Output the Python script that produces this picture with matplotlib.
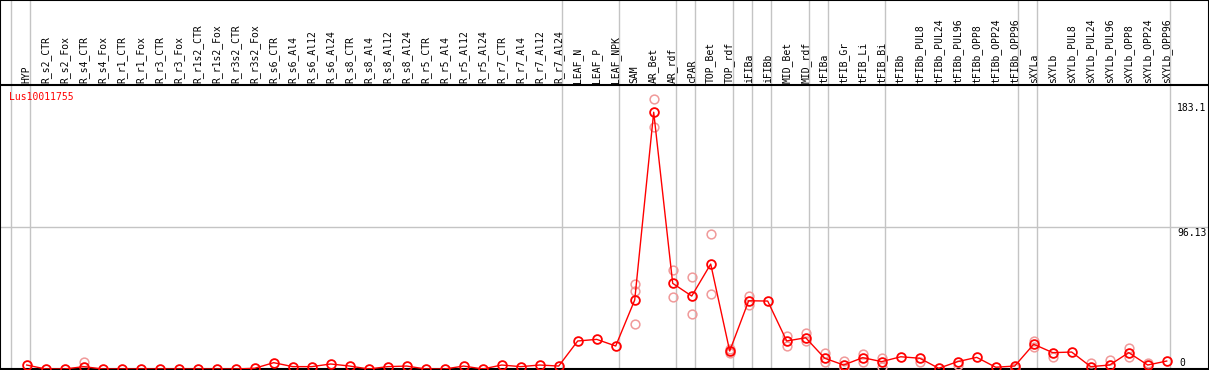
import numpy as np
import matplotlib
matplotlib.use('Agg')
import matplotlib.pyplot as plt

# sample names (header columns)
samples = ['HYP', 'R_s2_CTR', 'R_s2_Fox', 'R_s4_CTR', 'R_s4_Fox', 'R_r1_CTR', 'R_r1_Fox',
           'R_r3_CTR', 'R_r3_Fox', 'R_r1s2_CTR', 'R_r1s2_Fox', 'R_r3s2_CTR', 'R_r3s2_Fox',
           'R_s6_CTR', 'R_s6_Al4', 'R_s6_Al12', 'R_s6_Al24', 'R_s8_CTR', 'R_s8_Al4',
           'R_s8_Al12', 'R_s8_Al24', 'R_r5_CTR', 'R_r5_Al4', 'R_r5_Al12', 'R_r5_Al24',
           'R_r7_CTR', 'R_r7_Al4', 'R_r7_Al12', 'R_r7_Al24', 'LEAF_N', 'LEAF_P', 'LEAF_NPK',
           'SAM', 'AR_Bet', 'AR_rdf', 'cPAR', 'TOP_Bet', 'TOP_rdf', 'iFIBa', 'iFIBb',
           'MID_Bet', 'MID_rdf', 'tFIBa', 'tFIB_Gr', 'tFIB_Li', 'tFIB_Bi', 'tFIBb',
           'tFIBb_PUL8', 'tFIBb_PUL24', 'tFIBb_PUL96', 'tFIBb_OPP8', 'tFIBb_OPP24',
           'tFIBb_OPP96', 'sXYLa', 'sXYLb', 'sXYLb_PUL8', 'sXYLb_PUL24', 'sXYLb_PUL96',
           'sXYLb_OPP8', 'sXYLb_OPP24', 'sXYLb_OPP96']

# mean expression per sample
mean_vals = [2.7, 0, 0, 1.6, 0, 0, 0, 0, 0, 0, 0, 0, 0.5, 4.3, 1.6, 1.6, 3.4, 2.0, 0, 1.6,
             2.0, 0, 0, 2.0, 0, 2.7, 1.6, 2.7, 2.0, 19.0, 20.1, 15.6, 46.8, 174.2, 58.1,
             49.5, 71.2, 12.2, 46.3, 46.1, 19.0, 21.2, 7.3, 2.7, 7.7, 5.0, 8.3, 7.3, 0.5,
             5.0, 7.9, 1.2, 2.0, 16.8, 11.1, 11.5, 1.6, 2.7, 11.1, 2.7, 5.4]

# visible replicate values (sample index, values)
rep_idx = [3, 32, 33, 34, 35, 36, 37, 38, 40, 41, 42, 43, 44, 45, 47, 49, 52, 53, 54, 56, 57, 58, 59]
rep_vals = [[4.7], [57.5, 52.9, 30.5], [183.4, 164.2], [67.2, 48.6], [62.2, 37.3],
            [91.6, 50.7], [10.7, 13.6], [49.7, 43.4], [22.6, 15.8], [24.4, 19.0],
            [10.7, 5.0], [5.4, 1.0], [10.2, 5.0], [7.5, 1.4], [5.0], [2.7], [0.7],
            [19.0, 15.1], [8.3], [3.9], [6.1], [14.0, 7.9], [4.3]]

# last sample of each group (gray separators), -1 = left edge
group_ends = [-1, 0, 28, 31, 34, 35, 37, 38, 39, 41, 42, 45, 52, 53, 60]

gene = 'Lus10011755'
y_ticks = [183.1, 96.13]

plt.rcParams['font.family'] = 'DejaVu Sans Mono'

W, H = 1209, 370
px_col = 19.0       # pixels per sample
x0_px = 26.7        # pixel of first sample
k = 1.474           # pixels per unit
header_px = 84.5

fig = plt.figure(figsize=(W / 100, H / 100), dpi=100)
ax = fig.add_axes([0, 1 / H, 1, (H - 1) / H])
plot_h = H - 1
ax.set_xlim(-x0_px / px_col, (W - x0_px) / px_col)
ax.set_ylim(0, plot_h / k)
ax.set_xticks([])
ax.set_yticks([])
for s in ax.spines.values():
    s.set_linewidth(1.5)
    s.set_color('black')

x = np.arange(len(samples))
header_y = (plot_h - header_px) / k

# separators and grid
for g in group_ends:
    ax.axvline(g + 0.17, color='#c4c4c4', lw=1.0, zorder=1)
ax.axhline(y_ticks[1], color='#c4c4c4', lw=1.0, zorder=1)
ax.axhline(header_y, color='black', lw=1.5, zorder=2)

# replicates
for i, vals in zip(rep_idx, rep_vals):
    ax.plot([i] * len(vals), vals, 'o', mfc='none', mec='#f09a9a', ms=6.3, mew=1.1,
            zorder=3, clip_on=True)

# mean line
ax.plot(x, mean_vals, '-', color='red', lw=1.0, zorder=4)
ax.plot(x, mean_vals, 'o', mfc='none', mec='red', ms=6.3, mew=1.3, zorder=5)

# header labels
for i, name in enumerate(samples):
    ax.text(i, header_y + 1.5 / k, name, rotation=90, ha='center', va='bottom',
            fontsize=7, color='black')

ax.text(9 / W, 1 - 92 / plot_h, gene, transform=ax.transAxes, color='red',
        fontsize=7, ha='left', va='top')

# value labels on right
lab_x = len(samples) - 1 + 0.55
ax.annotate('183.1', xy=(lab_x, y_ticks[0]), xytext=(0, -4), textcoords='offset pixels',
            fontsize=7, ha='left', va='top')
ax.annotate('96.13', xy=(lab_x, y_ticks[1]), xytext=(0, -1), textcoords='offset pixels',
            fontsize=7, ha='left', va='top')
ax.text(lab_x + 0.1, (plot_h - 358) / k, '0', fontsize=7, ha='left', va='top')

fig.savefig('out.png', dpi=100)
